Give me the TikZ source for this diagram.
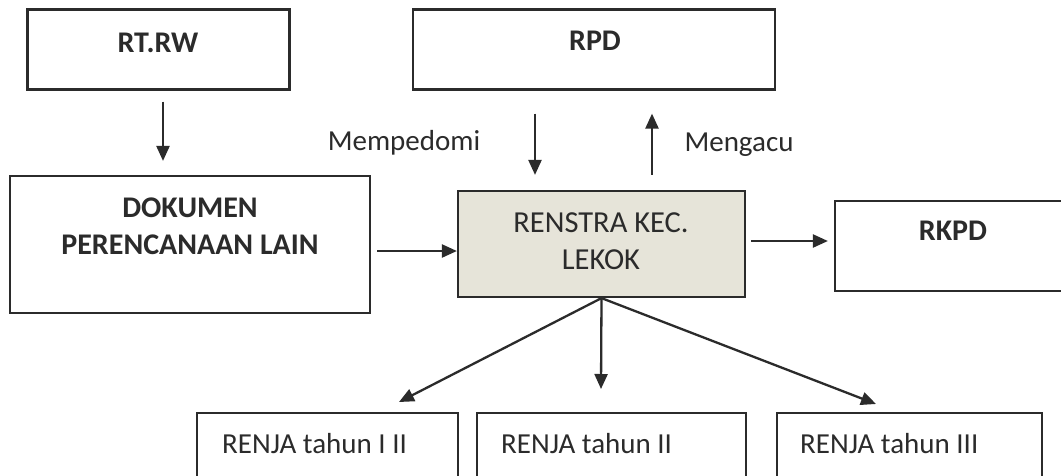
\documentclass[tikz,border=0pt]{standalone}
\usepackage{fontspec}
\setmainfont{Carlito}
\usetikzlibrary{arrows.meta}
\definecolor{ln}{HTML}{2B2B2B}
\definecolor{beige}{HTML}{E6E4D9}
\tikzset{
  box/.style={draw=ln, line width=2.2pt, rectangle, inner sep=0pt},
  txt/.style={inner sep=0pt, font=\fontsize{29}{37}\selectfont, text=ln, align=center},
  txtr/.style={txt, font=\fontsize{30.5}{37}\selectfont},
  txtb/.style={txt, font=\fontsize{30}{37}\selectfont\bfseries},
  arr/.style={draw=ln, line width=2.3pt, -{Triangle[length=15pt,width=13pt]}},
}
\begin{document}
\begin{tikzpicture}[x=1pt,y=-1pt]
\useasboundingbox (0,0) rectangle (1061,475);
\clip (0,0) rectangle (1061,475);
\fill[white] (0,0) rectangle (1061,475);
% boxes
\node[box, minimum width=262, minimum height=80] (rtrw) at (158.5,49.5) {};
\node[box, minimum width=362, minimum height=80] (rpd) at (594,49.5) {};
\node[box, minimum width=360, minimum height=137] (dok) at (190,244.5) {};
\node[box, fill=beige, minimum width=287, minimum height=106] (ren) at (601.5,244) {};
\node[box, minimum width=240, minimum height=90] (rkpd) at (955,246) {};
\node[box, minimum width=261, minimum height=70] (r1) at (327.5,448) {};
\node[box, minimum width=269, minimum height=70] (r2) at (611.5,448) {};
\node[box, minimum width=265, minimum height=70] (r3) at (909.5,448) {};
% texts
\node[txtb] (trtrw) at (158,43) {RT.RW};
\node[txtb] (trpd) at (595,41) {RPD};
\node[txtb] (tdok) at (190,226.5) {DOKUMEN\\PERENCANAAN LAIN};
\node[txtr] (tren) at (601,241.5) {RENSTRA KEC.\\LEKOK};
\node[txtb] (trkpd) at (953,231) {RKPD};
\node[txt] (tmp) at (404,143) {Mempedomi};
\node[txt] (tmg) at (739,145) {Mengacu};
\node[txt, anchor=west] (t1) at (222,444) {RENJA tahun I II};
\node[txt, anchor=west] (t2) at (501,444) {RENJA tahun II};
\node[txt, anchor=west] (t3) at (800,444) {RENJA tahun III};
% connectors
\draw[arr, shorten <=11pt, shorten >=14pt] (rtrw.south -| 163,0) -- (dok.north -| 163,0);
\coordinate (e1) at (399,402);
\coordinate (e2) at (601,389);
\coordinate (e3) at (876,404);
\draw[arr] (ren.south) -- (e1);
\draw[arr] (ren.south) -- (e2);
\draw[arr] (ren.south) -- (e3);
\draw[arr, shorten <=6pt] (dok.east |- 0,251) -- (ren.west |- 0,251);
\draw[arr, shorten <=5pt, shorten >=6pt] (ren.east |- 0,241) -- (rkpd.west |- 0,241);
\draw[arr, shorten <=23pt, shorten >=15pt] (rpd.south -| 535,0) -- (ren.north -| 535,0);
\draw[arr, shorten <=15pt, shorten >=23pt] (ren.north -| 652,0) -- (rpd.south -| 652,0);
\end{tikzpicture}
\end{document}
